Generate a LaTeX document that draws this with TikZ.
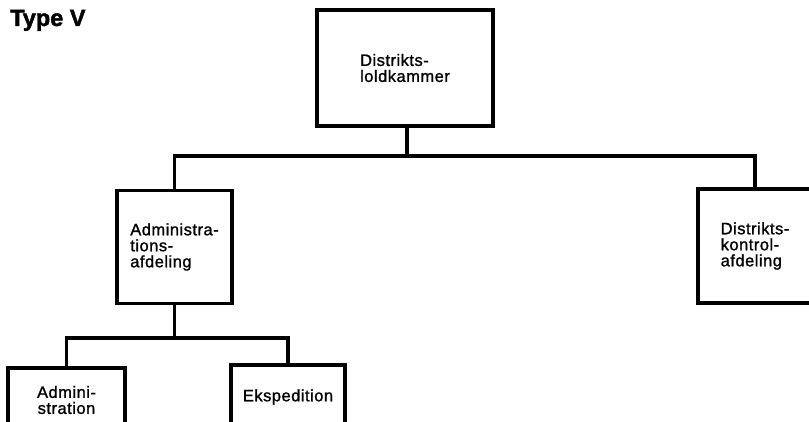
\documentclass[tikz,border=0pt]{standalone}
\usepackage{fontspec}
\setmainfont{Liberation Sans}[LetterSpace=3,FakeBold=1.2]
\newfontfamily\titlefont{Liberation Sans}[LetterSpace=0,FakeBold=1.8]
\begin{document}
\begin{tikzpicture}[x=1pt,y=-1pt,
  orgbox/.style={draw, line width=3.4pt, inner sep=0pt, font=\fontsize{16.5}{16}\selectfont},
  conn/.style={line width=3.4pt, line cap=rect}]
\useasboundingbox (0,0) rectangle (809,422);
\clip (0,0) rectangle (809,422);
\node[anchor=base west, font=\titlefont\bfseries\fontsize{23.5}{24}\selectfont, inner sep=0pt] (title) at (10,26) {Type V};
\node[orgbox, minimum width=176pt, minimum height=116pt, align=left] (top) at (405,68) {Distrikts-\\loldkammer};
\node[orgbox, minimum width=115pt, minimum height=113pt, align=left] (adm) at (174.5,247) {Administra-\\tions-\\afdeling};
\node[orgbox, minimum width=114pt, minimum height=114pt, align=left] (kon) at (755,246) {Distrikts-\\kontrol-\\afdeling};
\node[orgbox, minimum width=117pt, minimum height=64pt, align=center] (admi) at (66.5,400) {Admini-\\stration};
\node[orgbox, minimum width=114pt, minimum height=64pt, align=center] (eksp) at (288,397) {Ekspedition};
\coordinate (j1) at (407,156);
\coordinate (j2) at (174.5,338);
\draw[conn] (top.south -| j1) -- (j1);
\draw[conn] (adm.north) -- (adm.north |- j1) -- (kon.north |- j1) -- (kon.north);
\draw[conn] (adm.south) -- (j2);
\draw[conn] (admi.north) -- (admi.north |- j2) -- (eksp.north |- j2) -- (eksp.north);
\end{tikzpicture}
\end{document}
